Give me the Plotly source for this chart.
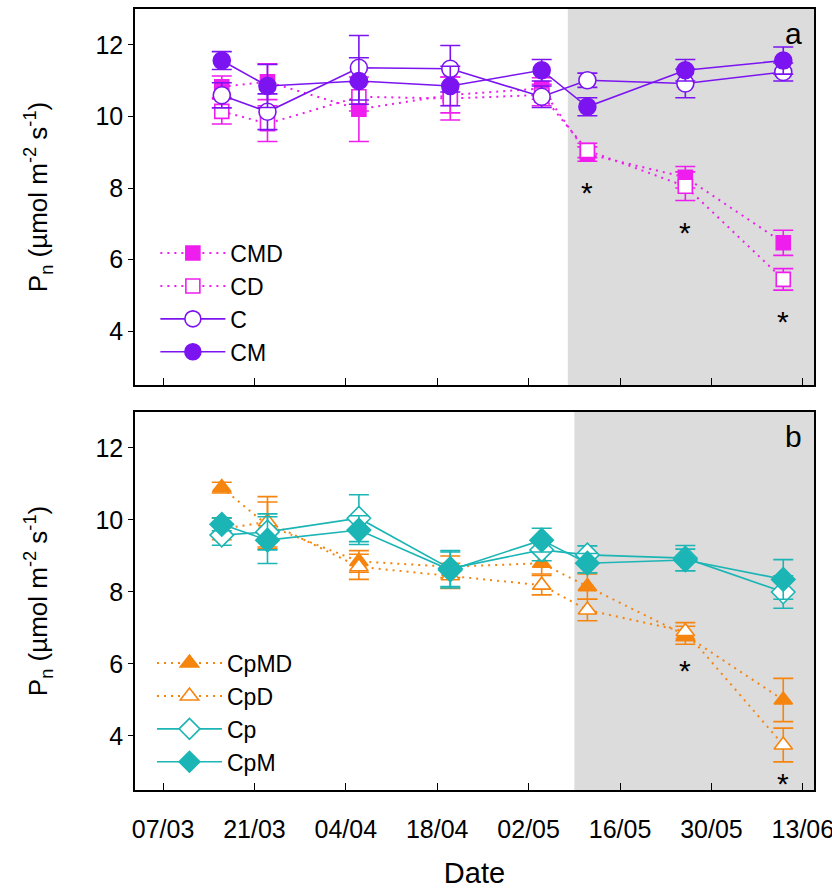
import plotly.graph_objects as go

# ---------------- data ----------------
dates = ["2019-03-16", "2019-03-23", "2019-04-06", "2019-04-20",
         "2019-05-04", "2019-05-11", "2019-05-26", "2019-06-10"]

# panel a
CMD = [10.83, 10.97, 10.20, 10.60, 10.78, 8.95, 8.30, 6.47]
CMD_err = [0.30, 0.50, 0.90, 0.50, 0.30, 0.20, 0.30, 0.35]
CD = [10.14, 9.80, 10.55, 10.50, 10.60, 9.05, 8.05, 5.45]
CD_err = [0.35, 0.50, 0.40, 0.60, 0.30, 0.20, 0.40, 0.30]
C = [10.59, 10.13, 11.36, 11.33, 10.55, 11.01, 10.92, 11.24]
C_err = [0.35, 0.50, 0.90, 0.65, 0.30, 0.20, 0.40, 0.25]
CM = [11.56, 10.85, 10.99, 10.85, 11.29, 10.27, 11.29, 11.56]
CM_err = [0.25, 0.60, 0.65, 0.55, 0.30, 0.25, 0.30, 0.38]

# panel b
CpMD = [10.90, 9.85, 8.85, 8.70, 8.80, 8.15, 6.80, 5.00]
CpMD_err = [0.15, 0.65, 0.30, 0.30, 0.30, 0.35, 0.25, 0.60]
CpD = [9.75, 9.95, 8.70, 8.45, 8.19, 7.50, 6.90, 3.75]
CpD_err = [0.30, 0.70, 0.35, 0.35, 0.27, 0.30, 0.25, 0.47]
Cp = [9.58, 9.67, 10.05, 8.65, 9.17, 9.03, 8.94, 8.00]
Cp_err = [0.28, 0.50, 0.65, 0.50, 0.30, 0.25, 0.35, 0.45]
CpM = [9.88, 9.44, 9.72, 8.61, 9.44, 8.80, 8.89, 8.35]
CpM_err = [0.18, 0.65, 0.40, 0.50, 0.33, 0.27, 0.30, 0.55]

# significance stars
star_a_x = ["2019-05-11", "2019-05-26", "2019-06-10"]
star_a_y = [8.08, 6.94, 4.47]
star_b_x = ["2019-05-26", "2019-06-10"]
star_b_y = [6.02, 2.87]

# drought period start (shaded)
shade_start_a = "2019-05-08"
shade_start_b = "2019-05-09"

x_range = ["2019-03-02 17:00", "2019-06-14 17:00"]
y_range = [2.5, 13]
y_ticks = [4, 6, 8, 10, 12]

MAG = "#ee1eee"
PUR = "#7b14f0"
ORA = "#f5850f"
TEA = "#1cb5b5"
FONT = "Liberation Sans, Arial, sans-serif"

fig = go.Figure()


def add(name, y, err, color, symbol, filled, dotted, xa, ya, legend, size):
    fig.add_trace(go.Scatter(
        x=dates, y=y, name=name, xaxis=xa, yaxis=ya, legend=legend,
        mode="lines+markers",
        line=dict(color=color, width=2 if dotted else 1.6,
                  dash="2px,5px" if dotted else "solid"),
        marker=dict(symbol=symbol, size=size,
                    color=color if filled else "white",
                    line=dict(color=color, width=1.6)),
        error_y=dict(type="data", array=err, color=color,
                     thickness=1.6, width=10),
    ))


add("CMD", CMD, CMD_err, MAG, "square", True, True, "x", "y", "legend", 14)
add("CD", CD, CD_err, MAG, "square", False, True, "x", "y", "legend", 14)
add("C", C, C_err, PUR, "circle", False, False, "x", "y", "legend", 17)
add("CM", CM, CM_err, PUR, "circle", True, False, "x", "y", "legend", 17)

add("CpMD", CpMD, CpMD_err, ORA, "triangle-up", True, True, "x2", "y2", "legend2", 16)
add("CpD", CpD, CpD_err, ORA, "triangle-up", False, True, "x2", "y2", "legend2", 16)
add("Cp", Cp, Cp_err, TEA, "diamond", False, False, "x2", "y2", "legend2", 18)
add("CpM", CpM, CpM_err, TEA, "diamond", True, False, "x2", "y2", "legend2", 18)

ytitle = "P<sub>n</sub> (µmol m<sup>-2</sup> s<sup>-1</sup>)"

common_x = dict(type="date", range=x_range, showline=True, linecolor="black",
                linewidth=1.5, mirror=True, ticks="inside", ticklen=7,
                tickcolor="black", tickwidth=1.2, tick0="2019-03-07",
                dtick=14 * 86400000, tickformat="%d/%m", showgrid=False,
                zeroline=False, ticklabeloverflow="allow", automargin=False,
                ticklabelstandoff=16,
                tickfont=dict(size=25, color="black"))
common_y = dict(range=y_range, tickvals=y_ticks, showline=True,
                linecolor="black", linewidth=1.5, mirror=True,
                ticks="outside", ticklen=5, tickcolor="black",
                tickwidth=1.2, showgrid=False, zeroline=False,
                automargin=False,
                tickfont=dict(size=25, color="black"),
                title=dict(text=ytitle, font=dict(size=26, color="black"),
                           standoff=40))

fig.update_layout(
    width=832, height=889,
    margin=dict(l=135, r=18, t=9, b=99),
    paper_bgcolor="white", plot_bgcolor="white",
    font=dict(family=FONT, color="black"),
    xaxis=dict(common_x, domain=[0, 1], anchor="y", showticklabels=False),
    yaxis=dict(common_y, domain=[0.5186, 1], anchor="x"),
    xaxis2=dict(common_x, domain=[0, 1], anchor="y2",
                title=dict(text="Date", font=dict(size=29, color="black"),
                           standoff=28)),
    yaxis2=dict(common_y, domain=[0, 0.484], anchor="x2"),
    legend=dict(x=0.03, y=0.715, xanchor="left", yanchor="top",
                bgcolor="rgba(0,0,0,0)", font=dict(size=23, color="black"),
                itemwidth=65, tracegroupgap=0),
    legend2=dict(x=0.025, y=0.19, xanchor="left", yanchor="top",
                 bgcolor="rgba(0,0,0,0)", font=dict(size=23, color="black"),
                 itemwidth=65, tracegroupgap=0),
    shapes=[
        dict(type="rect", xref="x", yref="y domain", x0=shade_start_a,
             x1=x_range[1], y0=0, y1=1, fillcolor="#dcdcdc",
             line=dict(width=0), layer="below"),
        dict(type="rect", xref="x2", yref="y2 domain", x0=shade_start_b,
             x1=x_range[1], y0=0, y1=1, fillcolor="#dcdcdc",
             line=dict(width=0), layer="below"),
    ],
)

for xs, ys in zip(star_a_x, star_a_y):
    fig.add_annotation(x=xs, y=ys, xref="x", yref="y", text="*",
                       showarrow=False, yshift=-7,
                       font=dict(size=30, color="black"))
for xs, ys in zip(star_b_x, star_b_y):
    fig.add_annotation(x=xs, y=ys, xref="x2", yref="y2", text="*",
                       showarrow=False, yshift=-7,
                       font=dict(size=30, color="black"))

fig.add_annotation(x=0.985, y=0.985, xref="x domain", yref="y domain",
                   text="a", showarrow=False, xanchor="right", yanchor="top",
                   font=dict(size=30, color="black"))
fig.add_annotation(x=0.985, y=0.985, xref="x2 domain", yref="y2 domain",
                   text="b", showarrow=False, xanchor="right", yanchor="top",
                   font=dict(size=30, color="black"))

fig.write_html("out.html")
